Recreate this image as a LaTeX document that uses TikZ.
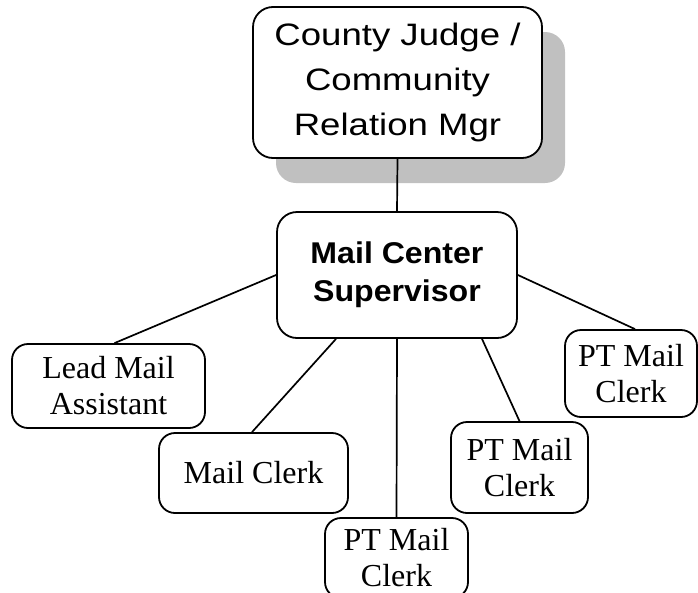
\documentclass[tikz,border=0pt]{standalone}
\usepackage{fontspec}
\setmainfont{Liberation Serif}
\newfontfamily\headfont[FakeStretch=1.18]{Liberation Sans}
\newfontfamily\supfont[FakeStretch=1.07]{Liberation Sans}
\definecolor{shadowgray}{RGB}{192,192,192}
\begin{document}
\begin{tikzpicture}[x={(1pt,0pt)}, y={(0pt,-1pt)},
  box/.style={draw, line width=1.8pt, rounded corners=18pt, align=center,
    inner sep=0pt, fill=white},
  staff/.style={box, rounded corners=16pt, font=\fontsize{32}{36}\selectfont},
  dropshadow/.style={fill=shadowgray, rounded corners=20pt, inner sep=0pt},
  link/.style={line width=1.7pt}]
\useasboundingbox (0,0) rectangle (698,592);

% head of the chart with its drop shadow
\node (headshadow) [dropshadow, minimum width=289pt, minimum height=151pt] at (420.5,107.5) {};
\node (head) [box, rounded corners=20pt, minimum width=289pt, minimum height=151pt,
  font=\headfont\fontsize{31}{45}\selectfont] at (397.5,82.5)
  {County Judge /\\Community\\Relation Mgr};

% supervisor
\node (sup) [box, rounded corners=20pt, minimum width=240pt, minimum height=126pt,
  font=\supfont\bfseries\fontsize{30}{38}\selectfont] at (397,275)
  {Mail Center\\Supervisor};

% staff
\node (lead) [staff, minimum width=193pt, minimum height=84pt] at (108.5,386) {Lead Mail\\Assistant};
\node (clerk) [staff, minimum width=189pt, minimum height=80pt] at (253.5,473) {Mail Clerk};
\node (ptA) [staff, minimum width=143pt, minimum height=80pt] at (396.5,558) {PT Mail\\Clerk};
\node (ptB) [staff, minimum width=137pt, minimum height=91pt] at (519.5,467.5) {PT Mail\\Clerk};
\node (ptC) [staff, minimum width=132pt, minimum height=87pt] at (631,373.5) {PT Mail\\Clerk};

% connectors
\draw[link] (head.south) -- (sup.north);
\draw[link] (sup.west) -- ([xshift=6pt]lead.north);
\draw[link] ([xshift=-61pt]sup.south) -- ([xshift=-1.5pt]clerk.north);
\draw[link] (sup.south) -- (ptA.north);
\draw[link] ([xshift=85pt]sup.south) -- (ptB.north);
\draw[link] (sup.east) -- ([xshift=4pt]ptC.north);
\end{tikzpicture}
\end{document}
